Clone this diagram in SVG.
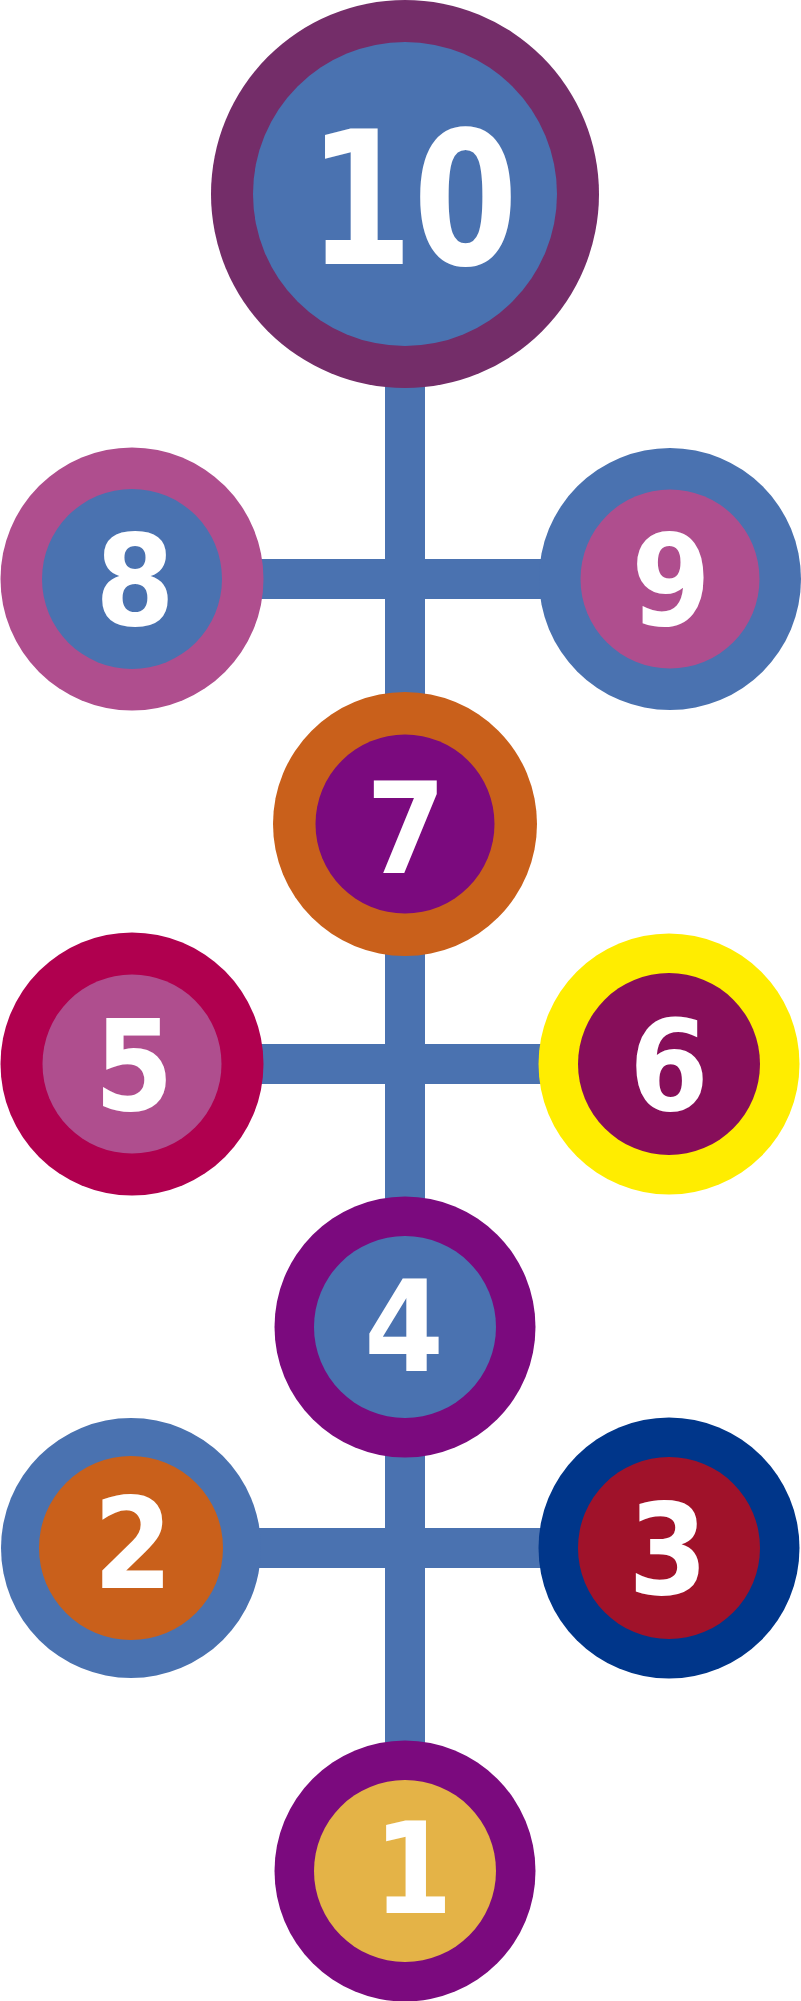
<svg xmlns="http://www.w3.org/2000/svg" width="801" height="2001" viewBox="0 0 801 2001">
<style>
.bar{fill:#4A72B0}
.num{font-family:"DejaVu Sans Condensed","DejaVu Sans",sans-serif;font-stretch:condensed;font-weight:bold;fill:#FFFFFF;text-anchor:middle;font-size:127px}
.big{font-size:186px}
</style>
<rect x="0" y="0" width="801" height="2001" fill="#FFFFFF"/>
<g id="connectors">
<rect class="bar" x="385" y="190" width="40" height="1690"/>
<rect class="bar" x="131" y="559" width="539" height="40"/>
<rect class="bar" x="131" y="1044" width="539" height="40"/>
<rect class="bar" x="131" y="1528" width="539" height="40"/>
</g>
<g id="node10">
<circle cx="405" cy="194" r="194" fill="#742D69"/>
<circle cx="405" cy="194" r="152" fill="#4A72B0"/>
<text class="num big" x="413" y="264" textLength="210" lengthAdjust="spacingAndGlyphs">10</text>
</g>
<g id="node8">
<circle cx="132" cy="579" r="131.5" fill="#AF4E8E"/>
<circle cx="132" cy="579" r="90" fill="#4A72B0"/>
<text class="num" x="135" y="625">8</text>
</g>
<g id="node9">
<circle cx="670" cy="579" r="131" fill="#4A72B0"/>
<circle cx="670" cy="579" r="89.5" fill="#AF4E8E"/>
<text class="num" x="671" y="625">9</text>
</g>
<g id="node7">
<circle cx="405" cy="824" r="132" fill="#C9601B"/>
<circle cx="405" cy="824" r="89.5" fill="#7B0A7E"/>
<text class="num" x="406" y="873">7</text>
</g>
<g id="node5">
<circle cx="132" cy="1064" r="131.5" fill="#B0004F"/>
<circle cx="132" cy="1064" r="89.5" fill="#AF4E8E"/>
<text class="num" x="134" y="1110">5</text>
</g>
<g id="node6">
<circle cx="669" cy="1064" r="130.5" fill="#FFED00"/>
<circle cx="669" cy="1064" r="91" fill="#870E5A"/>
<text class="num" x="669" y="1110">6</text>
</g>
<g id="node4">
<circle cx="405" cy="1327" r="130.5" fill="#7B0A7E"/>
<circle cx="405" cy="1327" r="91" fill="#4A72B0"/>
<text class="num" x="404" y="1371">4</text>
</g>
<g id="node2">
<circle cx="131" cy="1548" r="130" fill="#4A72B0"/>
<circle cx="131" cy="1548" r="92" fill="#C9601B"/>
<text class="num" x="133" y="1588">2</text>
</g>
<g id="node3">
<circle cx="669" cy="1548" r="130.5" fill="#00368A"/>
<circle cx="669" cy="1548" r="91" fill="#A0122A"/>
<text class="num" x="668" y="1594">3</text>
</g>
<g id="node1">
<circle cx="405" cy="1871" r="130.5" fill="#7B0A7E"/>
<circle cx="405" cy="1871" r="91" fill="#E4B347"/>
<text class="num" x="413" y="1913">1</text>
</g>
</svg>
